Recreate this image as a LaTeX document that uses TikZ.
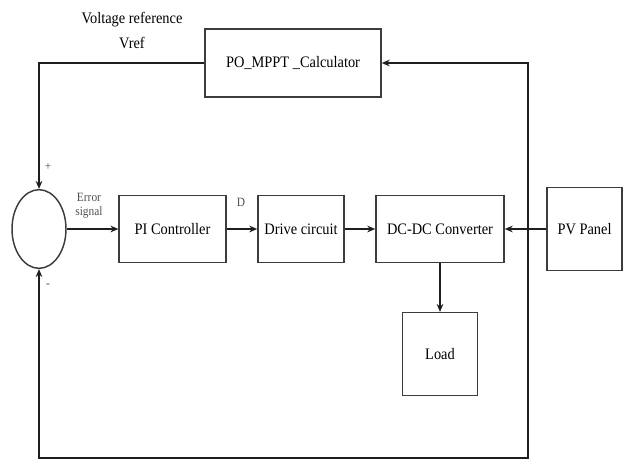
\documentclass[tikz,border=0pt]{standalone}
\usepackage{fontspec}
\setmainfont{Liberation Serif}
\newfontfamily\condfont[FakeStretch=0.9]{Liberation Serif}
\usetikzlibrary{shapes.geometric,arrows.meta}

\tikzset{every picture/.style={line width=1.1pt}}
\tikzset{
	blockbox/.style={draw={rgb,255:red,60;green,60;blue,60},fill=white,inner sep=0pt,font=\condfont\fontsize{12}{14}\selectfont},
	sigline/.style={draw={rgb,255:red,30;green,30;blue,30}},
	sigarrow/.style={sigline,-{Stealth[length=6pt,width=5pt]}},
	smalltext/.style={font=\condfont\fontsize{9.5}{9.5}\selectfont,text={rgb,255:red,80;green,80;blue,80},align=center}
}

\begin{document}
\begin{tikzpicture}[x=0.75pt,y=0.75pt,yscale=-1,xscale=1]
	\useasboundingbox (0,0) rectangle (624,461);

	%Shape: Rectangle [id:calc]
	\node [blockbox,minimum width=132pt,minimum height=51pt] (calc) at (293,63) {PO\_MPPT \_Calculator};
	%Shape: Ellipse [id:sum]
	\node [ellipse,draw={rgb,255:red,60;green,60;blue,60},minimum width=40.5pt,minimum height=59pt,inner sep=0pt] (sum) at (39,229) {};
	%Shape: Rectangle [id:pi]
	\node [blockbox,minimum width=80pt,minimum height=50pt] (pi) at (172.5,229) {PI Controller};
	%Shape: Rectangle [id:drive]
	\node [blockbox,minimum width=64.5pt,minimum height=50pt] (drive) at (301,229) {Drive circuit};
	%Shape: Rectangle [id:conv]
	\node [blockbox,minimum width=96pt,minimum height=50pt] (conv) at (440,229) {DC-DC Converter};
	%Shape: Rectangle [id:pv]
	\node [blockbox,minimum width=56.5pt,minimum height=62pt] (pv) at (584.5,229) {PV Panel};
	%Shape: Rectangle [id:load]
	\node [blockbox,minimum width=56pt,minimum height=62pt] (load) at (440,354) {Load};

	\coordinate (jn) at (528,229);
	\coordinate (fb) at (528,458);

	%Connectors
	\draw [sigarrow] (calc.west) -| (sum.north);
	\draw [sigarrow] (sum.east) -- (pi.west);
	\draw [sigarrow] (pi.east) -- (drive.west);
	\draw [sigarrow] (drive.east) -- (conv.west);
	\draw [sigarrow] (pv.west) -- (conv.east);
	\draw [sigarrow] (conv.south) -- (load.north);
	\draw [sigarrow] (jn) |- (calc.east);
	\draw [sigarrow] (jn) -- (fb) -| (sum.south);

	% Text Node
	\draw (132,20) node [font=\condfont\fontsize{12}{14}\selectfont] {Voltage reference};
	% Text Node
	\draw (132,43) node [font=\condfont\fontsize{12}{14}\selectfont] {Vref};
	% Text Node
	\draw (89,206) node [smalltext] {Error\\[1pt]signal};
	% Text Node
	\draw (241,202) node [smalltext] {D};
	% Text Node
	\draw (48,167) node [smalltext] {+};
	% Text Node
	\draw (48,286) node [smalltext] {-};

\end{tikzpicture}
\end{document}
